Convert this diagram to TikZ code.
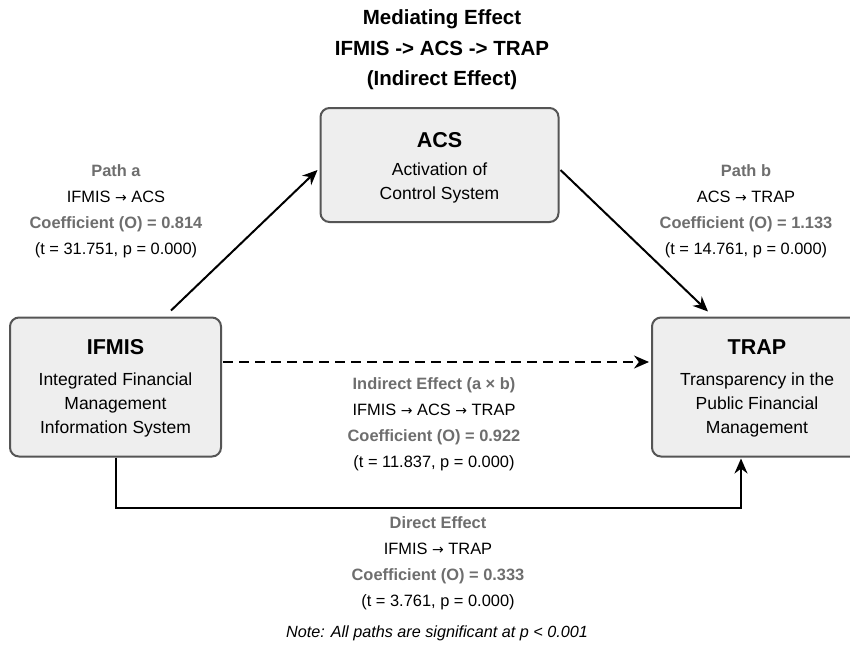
\documentclass[tikz,border=0pt]{standalone}
\usepackage{fontspec}
\setmainfont{Liberation Sans}
\newfontfamily\arrowfont{DejaVu Sans}
\usetikzlibrary{arrows.meta,calc}

\definecolor{boxfill}{HTML}{EEEEEE}
\definecolor{boxline}{HTML}{555555}
\definecolor{labelgray}{HTML}{6E6E6E}

\tikzset{
  varbox/.style={draw=boxline, line width=2pt, fill=boxfill, rounded corners=9pt,
    inner sep=0pt},
  boxtitle/.style={font=\fontsize{21.5}{24}\selectfont\bfseries, text=black},
  boxbody/.style={font=\fontsize{17.5}{24}\selectfont, align=center, text=black},
  pathlabel/.style={align=center, font=\fontsize{16.4}{26}\selectfont},
  heading/.style={align=center, font=\fontsize{20.5}{30.5}\selectfont\bfseries},
  link/.style={line width=2pt, draw=black, -{Stealth[length=15pt,width=13pt]}}
}

\newcommand{\glab}[1]{\textcolor{labelgray}{\bfseries #1}}
\newcommand{\toarrow}{{\arrowfont\fontsize{14}{14}\selectfont →}}

\begin{document}
\begin{tikzpicture}[x=1pt,y=-1pt]
  \clip (0,0) rectangle (850,649);
  \fill[white] (0,0) rectangle (850,649);

  % heading
  \node[heading] (head) at (442,50) {Mediating Effect\\IFMIS -> ACS -> TRAP\\(Indirect Effect)};

  % variable boxes
  \node[varbox, minimum width=238pt, minimum height=114pt] (acs) at (439.5,165) {};
  \node[boxtitle] (acsT) at (439.5,140) {ACS};
  \node[boxbody] (acsB) at (439.5,182.5) {Activation of\\Control System};

  \node[varbox, minimum width=211pt, minimum height=139pt] (ifmis) at (115.5,387) {};
  \node[boxtitle] (ifmisT) at (115.5,347) {IFMIS};
  \node[boxbody] (ifmisB) at (115.5,404.5) {Integrated Financial\\Management\\Information System};

  \node[varbox, minimum width=220pt, minimum height=139pt] (trap) at (762,387) {};
  \node[boxtitle] (trapT) at (757,347) {TRAP};
  \node[boxbody] (trapB) at (757,404.5) {Transparency in the\\Public Financial\\Management};

  % path a : IFMIS -> ACS
  \draw[link] ($(ifmis.north west)+(162,-6)$) -- ($(acs.west)+(-2,5)$);
  % path b : ACS -> TRAP
  \draw[link] ($(acs.east)+(1,5)$) -- ($(trap.north west)+(57,-5)$);
  % indirect (dashed) : IFMIS -> TRAP
  \draw[link, dash pattern=on 10pt off 6pt] ($(ifmis.east)+(1,-25)$) -- ($(trap.west)+(-2,-25)$);
  % direct : IFMIS -> TRAP underneath
  \coordinate (dl) at ($(ifmis.south west)+(107,50)$);
  \coordinate (dr) at ($(trap.south west)+(90,50)$);
  \draw[link] ($(ifmis.south west)+(107,0)$) -- (dl) -- (dr) -- ($(trap.south west)+(90,1)$);

  % path labels
  \node[pathlabel] (pa) at (116,211) {\glab{Path a}\\IFMIS \toarrow{} ACS\\\glab{Coefficient (O) = 0.814}\\(t = 31.751, p = 0.000)};
  \node[pathlabel] (pb) at (746,211) {\glab{Path b}\\ACS \toarrow{} TRAP\\\glab{Coefficient (O) = 1.133}\\(t = 14.761, p = 0.000)};
  \node[pathlabel] (pi) at (434,424) {\glab{Indirect Effect (a × b)}\\IFMIS \toarrow{} ACS \toarrow{} TRAP\\\glab{Coefficient (O) = 0.922}\\(t = 11.837, p = 0.000)};
  \node[pathlabel] (pd) at (438,563) {\glab{Direct Effect}\\IFMIS \toarrow{} TRAP\\\glab{Coefficient (O) = 0.333}\\(t = 3.761, p = 0.000)};

  % footnote
  \node[font=\fontsize{16.2}{18}\selectfont\itshape] (note) at (437,633) {Note: All paths are significant at p < 0.001};
\end{tikzpicture}
\end{document}
